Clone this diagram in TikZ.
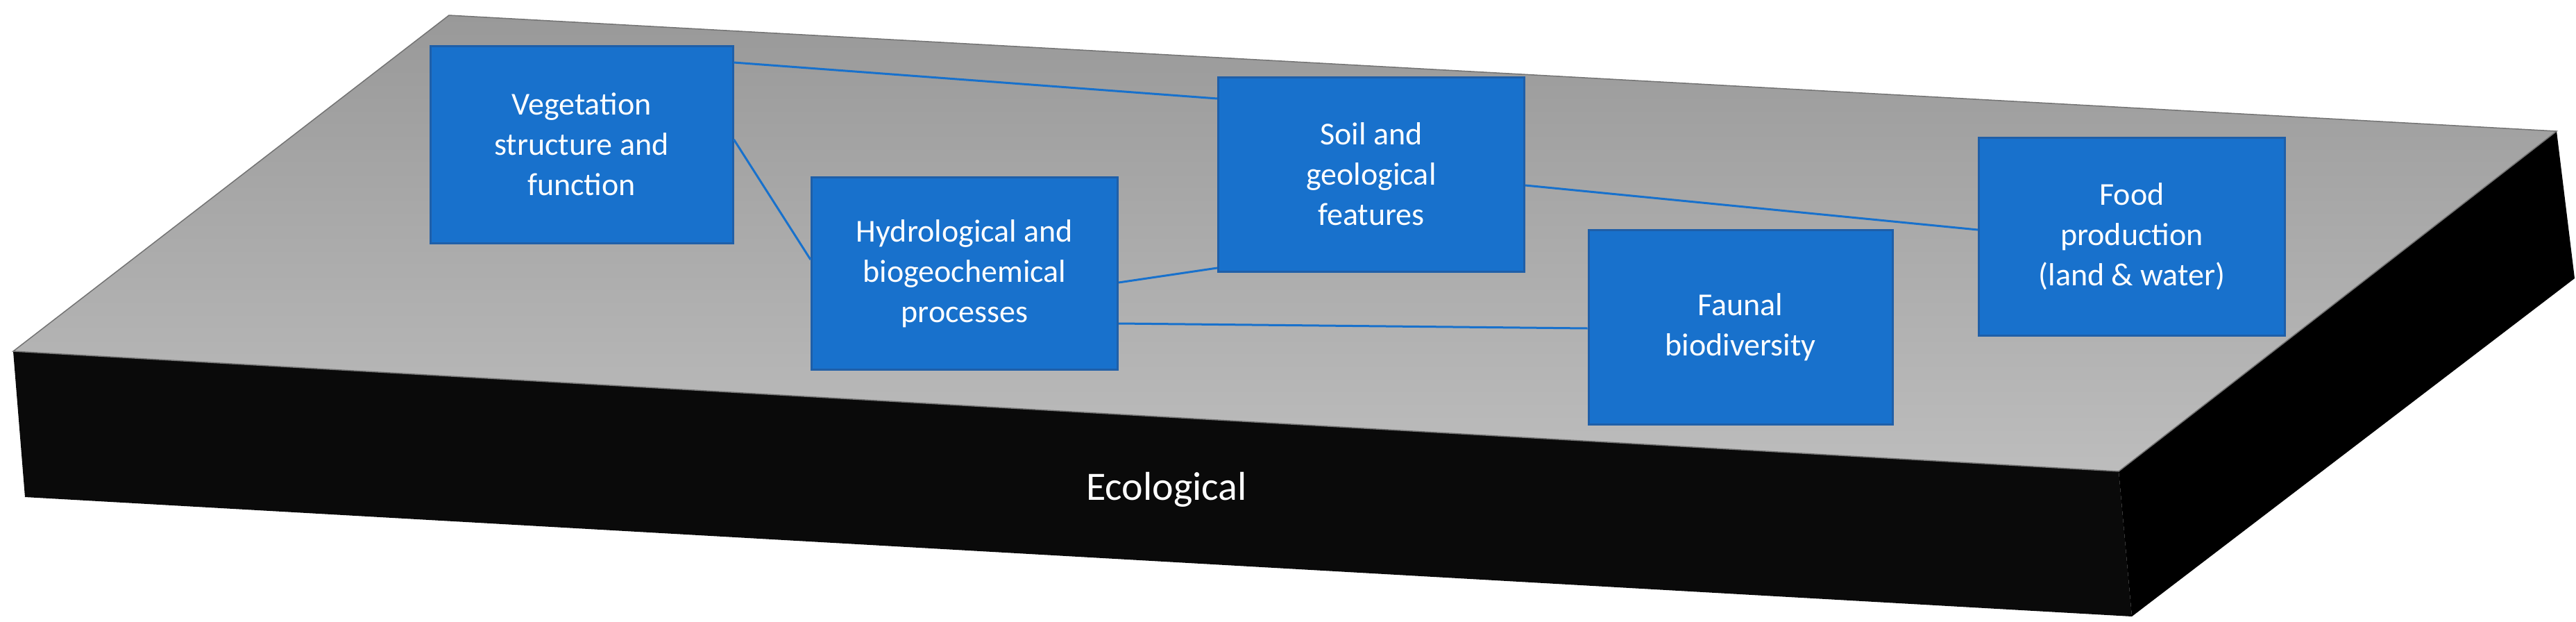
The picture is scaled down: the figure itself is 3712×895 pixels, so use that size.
\documentclass[tikz,border=0pt]{standalone}
\usepackage{fontspec}
\setmainfont{Carlito}
\definecolor{boxblue}{HTML}{1871CC}
\definecolor{boxedge}{HTML}{1F5FA8}
\begin{document}
\begin{tikzpicture}[x=1pt,y=-1pt,
  box/.style={draw=boxedge,line width=3pt,fill=boxblue,text=white,align=center,
    font=\fontsize{46}{58}\selectfont,inner sep=0pt},
  link/.style={draw=boxblue,line width=3pt}]
\useasboundingbox (0,0) rectangle (3712,895);
% slab
\fill[black!96] (19,506) -- (3053,679) -- (3072,888) -- (36,716) -- cycle;
\fill[black] (3053,679) -- (3684,189) -- (3710,401) -- (3072,888) -- cycle;
\shade[top color=black!40,bottom color=black!26,draw=black!55,line width=1.5pt]
  (647,22) -- (3684,189) -- (3053,679) -- (19,506) -- cycle;
\node[text=white,font=\fontsize{58}{70}\selectfont] (eco) at (1681,705) {Ecological};
% boxes
\node[box,minimum width=436,minimum height=284] (veg) at (838,208) {Vegetation\\structure and\\function};
\node[box,minimum width=441,minimum height=277] (hyd) at (1390,394) {Hydrological and\\biogeochemical\\processes};
\node[box,minimum width=441,minimum height=280] (soil) at (1976,251) {Soil and\\geological\\features};
\node[box,minimum width=438,minimum height=280] (fau) at (2508,471) {Faunal\\biodiversity};
\node[box,minimum width=441,minimum height=285] (food) at (3072,341) {Food\\production\\(land \& water)};
% links
\draw[link] (veg.east|-0,90) -- (soil.west|-0,142);
\draw[link] (veg.east|-0,201) -- (hyd.west|-0,374);
\draw[link] (hyd.east|-0,407) -- (soil.west|-0,386);
\draw[link] (hyd.east|-0,466) -- (fau.west|-0,473);
\draw[link] (soil.east|-0,267) -- (food.west|-0,331);
\end{tikzpicture}
\end{document}
